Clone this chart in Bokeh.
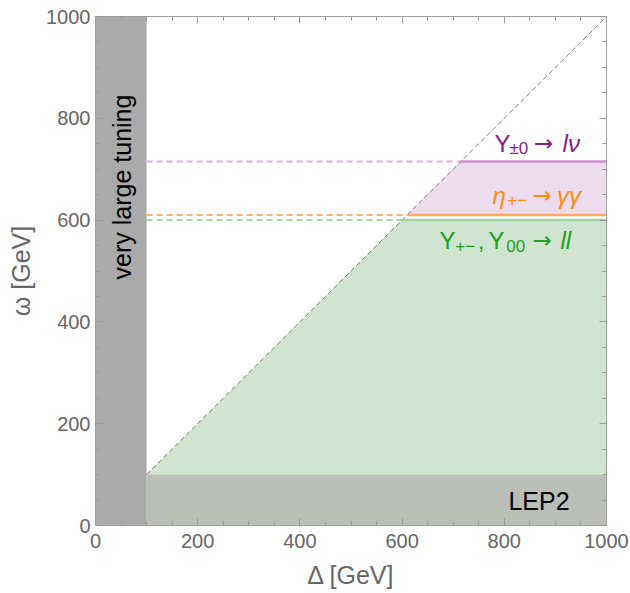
import math
from bokeh.plotting import figure
from bokeh.models import LinearAxis, Range1d, FixedTicker
from bokeh.core.properties import value
from bokeh.embed import file_html
from bokeh.resources import INLINE

# ---- data ----
axis_max = 1000
tuning_cut = 100      # Δ below this: very large tuning
lep2_cut = 100        # ω below this: LEP2 exclusion
limit_ll = 600        # Υ+-, Υ00 -> ll
limit_gg = 610        # η+- -> γγ
limit_lnu = 715       # Υ±0 -> lν
major_ticks = [0, 200, 400, 600, 800, 1000]
minor_step = 50

FONT = "Liberation Sans"
GRAY_TXT = "#666666"

p = figure(width=630, height=593, output_backend="svg", toolbar_location=None,
           x_range=Range1d(0, axis_max), y_range=Range1d(0, axis_max),
           min_border_left=95, min_border_right=24, min_border_top=16, min_border_bottom=68,
           x_axis_label="Δ [GeV]", y_axis_label="ω [GeV]")
p.grid.visible = False
p.outline_line_color = "#a0a0a0"
p.background_fill_color = "white"

# green excluded region
p.patch([tuning_cut, limit_ll, axis_max, axis_max], [lep2_cut, limit_ll, limit_ll, lep2_cut],
        fill_color="#d0e5d0", line_color=None)
# pink region
p.patch([limit_gg, limit_lnu, axis_max, axis_max], [limit_gg, limit_lnu, limit_lnu, limit_gg],
        fill_color="#eedcee", line_color=None)
# LEP2 region
p.quad(left=[tuning_cut], right=[axis_max], bottom=[0], top=[lep2_cut],
       fill_color="#b9bfb7", line_color=None)
# very large tuning band
p.quad(left=[0], right=[tuning_cut], bottom=[0], top=[axis_max],
       fill_color="#aaaaaa", line_color=None)

# dashed horizontal continuations
for lvl, col in [(limit_lnu, "#ddb0dd"), (limit_gg, "#ffb070"), (limit_ll, "#a8d8a8")]:
    p.line([tuning_cut, lvl], [lvl, lvl], line_color=col, line_width=2, line_dash="6 4")
# diagonal
p.line([tuning_cut, axis_max], [lep2_cut, axis_max], line_color="#555555", line_width=0.8,
       line_dash="5 3")
# solid limit lines
p.line([limit_ll, axis_max], [limit_ll, limit_ll], line_color="#a3d3a3", line_width=2.5)
p.line([limit_gg, axis_max], [limit_gg, limit_gg], line_color="#ffa860", line_width=2.5)
p.line([limit_lnu, axis_max], [limit_lnu, limit_lnu], line_color="#c890c8", line_width=2.5)

def txt(x, y, s, color, size="24px", style="normal", align="left", angle=0.0,
        baseline="alphabetic", font=FONT):
    p.text(x=[x], y=[y], text=[s], text_color=color, text_font=value(font),
           text_font_size=value(size), text_font_style=style, text_align=align,
           text_baseline=baseline, angle=angle)

def arrow(x, y, color):
    txt(x, y, "→", color, size="23px", font="DejaVu Sans")

PURPLE = "#8b1a8b"
ORANGE = "#ff8a10"
GREEN = "#22a022"
SUB = "17px"
# Υ±0 -> lν
y1, y1s = 751, 741
txt(781, y1, "Υ", PURPLE)
txt(810, y1s, "±0", PURPLE, size=SUB)
arrow(858, y1, PURPLE)
txt(914, y1, "lν", PURPLE, style="italic")
# η+- -> γγ
y2, y2s = 649, 639
txt(777, y2, "η", ORANGE, style="italic")
txt(806, y2s, "+−", ORANGE, size=SUB)
arrow(855, y2, ORANGE)
txt(903, y2, "γγ", ORANGE, style="italic")
# Υ+-, Υ00 -> ll
y3, y3s = 560, 550
txt(673, y3, "Υ", GREEN)
txt(704, y3s, "+−", GREEN, size=SUB)
txt(748, y3, ",", GREEN)
txt(769, y3, "Υ", GREEN)
txt(804, y3s, "00", GREEN, size=SUB)
arrow(855, y3, GREEN)
txt(910, y3, "ll", GREEN, style="italic")

txt(808, 49, "LEP2", "black", size="25px")
txt(52, 665, "very large tuning", "black", size="25px", align="center", angle=math.pi / 2,
    baseline="middle")

# axes styling
def style_axis(ax, labels=True):
    ax.ticker = FixedTicker(ticks=major_ticks,
                            minor_ticks=list(range(0, axis_max + 1, minor_step)))
    ax.major_tick_in = 7
    ax.major_tick_out = 0
    ax.minor_tick_in = 4
    ax.minor_tick_out = 0
    ax.major_tick_line_color = "#999999"
    ax.minor_tick_line_color = "#999999"
    ax.axis_line_color = "#a0a0a0"
    ax.major_label_text_font = FONT
    ax.major_label_text_font_size = "20px"
    ax.major_label_text_color = GRAY_TXT
    ax.axis_label_text_font = FONT
    ax.axis_label_text_font_size = "25px"
    ax.axis_label_text_font_style = "normal"
    ax.axis_label_text_color = GRAY_TXT
    if not labels:
        ax.major_label_text_font_size = "0px"
        ax.major_label_text_alpha = 0

style_axis(p.xaxis[0])
style_axis(p.yaxis[0])
p.xaxis[0].major_label_standoff = 8
p.yaxis[0].major_label_standoff = 5
p.xaxis[0].axis_label_standoff = 10
p.yaxis[0].axis_label_standoff = 8

top = LinearAxis()
right = LinearAxis()
style_axis(top, labels=False)
style_axis(right, labels=False)
p.add_layout(top, "above")
p.add_layout(right, "right")

open("out.html", "w").write(file_html(p, INLINE))
